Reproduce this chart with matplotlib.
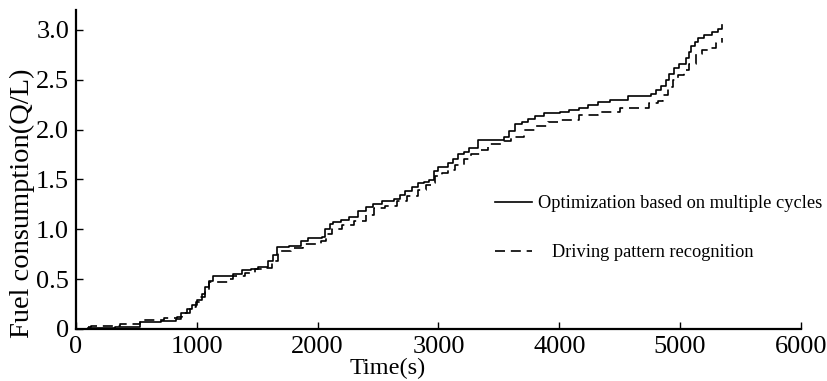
import matplotlib
matplotlib.use("Agg")
import matplotlib.pyplot as plt

plt.rcParams['font.family'] = ['Liberation Serif', 'DejaVu Serif']

# cumulative fuel use, optimisation over multiple cycles
opt_t = [100, 320, 530, 700, 830, 870, 920, 960, 1000, 1040, 1070, 1100, 1130,
         1300, 1370, 1450, 1510, 1590, 1630, 1660, 1760, 1860, 1920, 2040, 2060,
         2100, 2130, 2190, 2260, 2330, 2400, 2460, 2530, 2630, 2680, 2720, 2780,
         2830, 2880, 2920, 2960, 3000, 3080, 3120, 3160, 3210, 3250, 3330, 3540,
         3580, 3630, 3690, 3740, 3800, 3870, 4010, 4080, 4160, 4240, 4320, 4420,
         4570, 4760, 4800, 4840, 4880, 4910, 4950, 4990, 5050, 5070, 5090, 5120,
         5150, 5200, 5260, 5310, 5350]
opt_q = [0.01, 0.02, 0.07, 0.08, 0.10, 0.16, 0.20, 0.24, 0.29, 0.35, 0.42, 0.48, 0.53,
         0.55, 0.59, 0.60, 0.62, 0.68, 0.74, 0.82, 0.83, 0.88, 0.91, 0.92, 1.00,
         1.05, 1.07, 1.09, 1.12, 1.18, 1.22, 1.25, 1.28, 1.30, 1.34, 1.38, 1.42,
         1.46, 1.47, 1.49, 1.58, 1.62, 1.66, 1.70, 1.75, 1.78, 1.82, 1.90, 1.93,
         1.99, 2.06, 2.08, 2.11, 2.14, 2.17, 2.18, 2.20, 2.22, 2.25, 2.28, 2.30,
         2.34, 2.36, 2.40, 2.44, 2.50, 2.56, 2.62, 2.66, 2.72, 2.78, 2.84, 2.88,
         2.92, 2.95, 2.98, 3.01, 3.05]

# cumulative fuel use, driving pattern recognition
dpr_t = [100, 120, 360, 530, 730, 840, 880, 940, 990, 1030, 1070, 1100, 1260,
         1300, 1400, 1480, 1560, 1620, 1670, 1780, 1880, 2030, 2070, 2120, 2200,
         2300, 2400, 2470, 2560, 2660, 2740, 2830, 2900, 2940, 2970, 3030, 3080,
         3140, 3210, 3270, 3340, 3410, 3540, 3600, 3710, 3800, 3910, 4000, 4160,
         4320, 4500, 4740, 4820, 4860, 4900, 4940, 4980, 5030, 5070, 5130, 5180,
         5230, 5300, 5350]
dpr_q = [0.02, 0.03, 0.05, 0.09, 0.11, 0.12, 0.16, 0.22, 0.27, 0.32, 0.38, 0.47, 0.50,
         0.53, 0.56, 0.60, 0.61, 0.68, 0.78, 0.81, 0.85, 0.88, 0.95, 1.00, 1.04,
         1.08, 1.14, 1.21, 1.23, 1.28, 1.33, 1.39, 1.44, 1.46, 1.53, 1.56, 1.59,
         1.64, 1.70, 1.75, 1.80, 1.86, 1.89, 1.93, 2.00, 2.04, 2.08, 2.10, 2.15,
         2.18, 2.22, 2.27, 2.29, 2.35, 2.43, 2.50, 2.55, 2.60, 2.66, 2.76, 2.80,
         2.82, 2.87, 2.92]

x_ticks = [0, 1000, 2000, 3000, 4000, 5000, 6000]
y_ticks = [0, 0.5, 1.0, 1.5, 2.0, 2.5, 3.0]
y_tick_labels = ['0', '0.5', '1.0', '1.5', '2.0', '2.5', '3.0']

fig = plt.figure(figsize=(8.28, 3.81), dpi=100)
ax = fig.add_axes([0.0918, 0.1365, 0.8755, 0.8375])

ax.plot(opt_t, opt_q, color='black', lw=1.2, drawstyle='steps-post',
        label='Optimization based on multiple cycles')
ax.plot(dpr_t, dpr_q, color='black', lw=1.2, drawstyle='steps-post',
        dashes=(6, 3.5), label='   Driving pattern recognition')

ax.set_xlim(0, 6000)
ax.set_ylim(0, 3.2)
ax.set_xticks(x_ticks)
ax.set_yticks(y_ticks)
ax.set_yticklabels(y_tick_labels)
ax.tick_params(direction='in', length=5, width=1, labelsize=19, pad=5)

for side in ['top', 'right']:
    ax.spines[side].set_visible(False)
for side in ['left', 'bottom']:
    ax.spines[side].set_linewidth(1.6)

ax.set_xlabel('Time(s)', fontsize=17.5)
ax.set_ylabel('Fuel consumption(Q/L)', fontsize=20.5)
ax.xaxis.set_label_coords(0.43, -0.09)
ax.yaxis.set_label_coords(-0.057, 0.395)

ax.legend(loc='upper left', bbox_to_anchor=(0.578, 0.42), frameon=False,
          fontsize=13.2, handlelength=2.0, handletextpad=0.35, labelspacing=1.75,
          borderaxespad=0, borderpad=0)

fig.savefig('out.png', dpi=100)
